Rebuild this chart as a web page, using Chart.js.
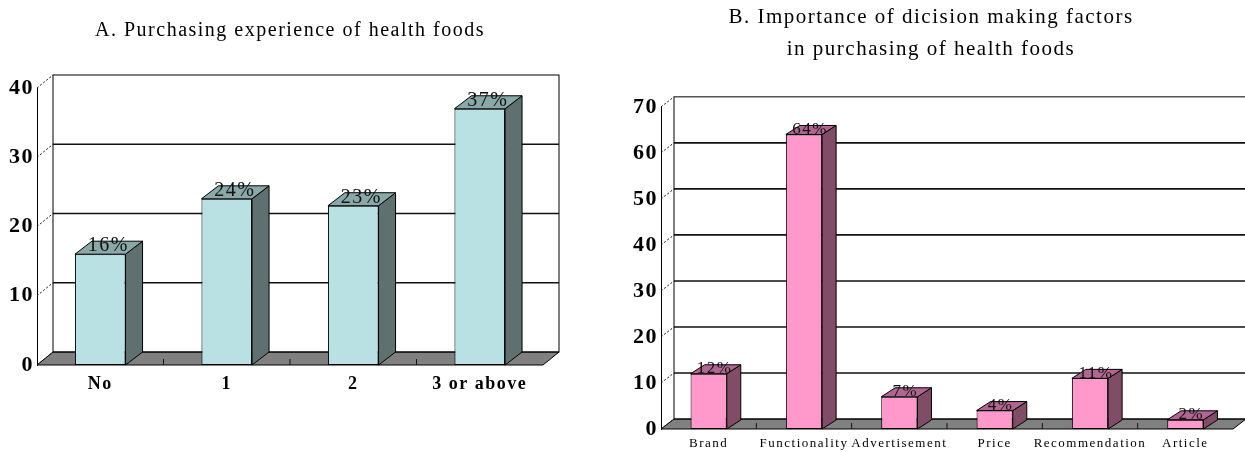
<!DOCTYPE html>
<html>
<head>
<meta charset="utf-8">
<script src="https://cdn.jsdelivr.net/npm/chart.js@4/dist/chart.umd.min.js"></script>
<style>
  body { margin: 0; background: #fff; width: 1245px; height: 452px; overflow: hidden; position: relative; }
  .box { position: absolute; top: 0; height: 452px; }
  #boxA { left: 0; width: 600px; }
  #boxB { left: 600px; width: 645px; }
</style>
</head>
<body>
<div class="box" id="boxA"><canvas id="chartA"></canvas></div>
<div class="box" id="boxB"><canvas id="chartB"></canvas></div>
<script>
// chart A data
const catsA = ["No", "1", "2", "3 or above"];
const valsA = [16, 24, 23, 37];
const ticksA = [0, 10, 20, 30, 40];

// chart B data
const catsB = ["Brand", "Functionality", "Advertisement", "Price", "Recommendation", "Article"];
const valsB = [12, 64, 7, 4, 11, 2];
const ticksB = [0, 10, 20, 30, 40, 50, 60, 70];

const serif = "'Liberation Serif', 'Times New Roman', serif";

function line(ctx, x1, y1, x2, y2) {
    ctx.beginPath();
    ctx.moveTo(x1, y1);
    ctx.lineTo(x2, y2);
    ctx.stroke();
}

function poly(ctx, pts, fill) {
    ctx.beginPath();
    ctx.moveTo(pts[0][0], pts[0][1]);
    pts.slice(1).forEach(p => ctx.lineTo(p[0], p[1]));
    ctx.closePath();
    ctx.fillStyle = fill;
    ctx.fill();
    ctx.stroke();
}

// fake 3d: back wall, floor, side + top faces of the bars
const depth3d = {
    id: "depth3d",
    beforeDraw(chart, args, o) {
        // the old chart fonts are spaced out a bit
        chart.ctx.letterSpacing = o.spacing;
    },
    beforeDatasetsDraw(chart, args, o) {
        const { ctx, chartArea: a, scales: { x, y } } = chart;
        const dx = o.wallDx, dy = o.wallDy;
        const base = y.getPixelForValue(y.min);
        const top = y.getPixelForValue(y.max);
        ctx.save();
        ctx.strokeStyle = "#000";
        ctx.lineWidth = 1;
        poly(ctx, [[a.left, base], [a.right, base], [a.right + dx, base - dy], [a.left + dx, base - dy]], o.floor);
        ctx.strokeRect(a.left + dx, top - dy, a.right - a.left, base - top);
        ctx.lineWidth = 1.6;
        ctx.strokeStyle = "#111";
        y.ticks.forEach(t => {
            if (t.value > y.min && t.value < y.max) {
                const py = y.getPixelForValue(t.value) - dy;
                line(ctx, a.left + dx, py, a.right + dx, py);
            }
        });
        ctx.lineWidth = 1;
        ctx.setLineDash([2, 2]);
        y.ticks.forEach(t => {
            const py = y.getPixelForValue(t.value);
            line(ctx, a.left, py, a.left + dx, py - dy);
        });
        ctx.setLineDash([]);
        for (let i = 1; i < x.ticks.length; i++) {
            const px = (x.getPixelForTick(i - 1) + x.getPixelForTick(i)) / 2;
            line(ctx, px, base, px, base - 6);
        }
        ctx.restore();
    },
    afterDatasetsDraw(chart, args, o) {
        const { ctx } = chart;
        const meta = chart.getDatasetMeta(0);
        const vals = chart.data.datasets[0].data;
        const bdx = o.barDx, bdy = o.barDy;
        ctx.save();
        ctx.strokeStyle = "#000";
        ctx.lineWidth = 1;
        ctx.letterSpacing = o.spacing;
        meta.data.forEach((bar, i) => {
            const p = bar.getProps(["x", "y", "base", "width"], true);
            const l = p.x - p.width / 2, r = p.x + p.width / 2;
            poly(ctx, [[r, p.y], [r + bdx, p.y - bdy], [r + bdx, p.base - bdy], [r, p.base]], o.side);
            poly(ctx, [[l, p.y], [l + bdx, p.y - bdy], [r + bdx, p.y - bdy], [r, p.y]], o.top);
            ctx.fillStyle = "#111";
            ctx.font = o.labelFont;
            ctx.textAlign = "center";
            ctx.textBaseline = "middle";
            ctx.fillText(vals[i] + "%", p.x + o.labelDx, p.y + o.labelDy);
        });
        ctx.restore();
    }
};

function makeChart(id, cats, vals, ticks, cfg) {
    return new Chart(document.getElementById(id), {
        type: "bar",
        data: {
            labels: cats,
            datasets: [{
                data: vals,
                backgroundColor: cfg.front,
                borderColor: "#000",
                borderWidth: 1,
                borderSkipped: false,
                barPercentage: cfg.barPct,
                categoryPercentage: 1
            }]
        },
        options: {
            responsive: true,
            maintainAspectRatio: false,
            animation: false,
            layout: { padding: cfg.padding },
            plugins: {
                legend: { display: false },
                tooltip: { enabled: false },
                title: {
                    display: true,
                    fullSize: cfg.titleFull,
                    text: cfg.title,
                    color: "#000",
                    font: { family: serif, size: cfg.titleSize, weight: "normal", lineHeight: cfg.titleLH },
                    padding: cfg.titlePad
                },
                depth3d: cfg.depth
            },
            scales: {
                x: {
                    grid: { display: false, drawTicks: false },
                    border: { display: false },
                    ticks: { color: "#000", font: cfg.xFont, padding: cfg.xPad, maxRotation: 0, autoSkip: false },
                    afterFit: s => { s.height = cfg.xHeight; }
                },
                y: {
                    min: ticks[0],
                    max: ticks[ticks.length - 1],
                    grid: { display: false, drawTicks: false },
                    border: { display: true, color: "#000", width: 1 },
                    ticks: { stepSize: ticks[1] - ticks[0], color: "#000", padding: 3,
                        font: { family: serif, size: 22, weight: "bold" } },
                    afterFit: s => { s.width = cfg.yWidth; }
                }
            }
        },
        plugins: [depth3d]
    });
}

makeChart("chartA", catsA, valsA, ticksA, {
    title: "A. Purchasing experience of health foods",
    titleFull: false,
    titleSize: 20, titleLH: 1.2, titlePad: { top: 19, bottom: 45 },
    padding: { left: 0, right: 57, top: 0, bottom: 0 },
    yWidth: 37, xHeight: 87, xPad: 9,
    xFont: { family: serif, size: 18, weight: "bold" },
    front: "#b9e0e3", barPct: 0.4,
    depth: { spacing: "1.5px", wallDx: 16, wallDy: 13, barDx: 17, barDy: 13, floor: "#808080",
        side: "#5f7070", top: "#8aa8a8", labelFont: "20px " + serif, labelDx: 8, labelDy: -8 }
});

makeChart("chartB", catsB, valsB, ticksB, {
    title: ["B. Importance of dicision making factors", "in purchasing of health foods"],
    titleFull: true,
    titleSize: 21, titleLH: 1.52, titlePad: { top: 2, bottom: 41 },
    padding: { left: 29, right: 12, top: 0, bottom: 0 },
    yWidth: 32, xHeight: 23, xPad: 7,
    xFont: { family: serif, size: 13, weight: "normal" },
    front: "#ff99cc", barPct: 0.38,
    depth: { spacing: "1.5px", wallDx: 13, wallDy: 10, barDx: 14, barDy: 9, floor: "#808080",
        side: "#804c66", top: "#b06690", labelFont: "17px " + serif, labelDx: 6, labelDy: -5 }
});
</script>
</body>
</html>
